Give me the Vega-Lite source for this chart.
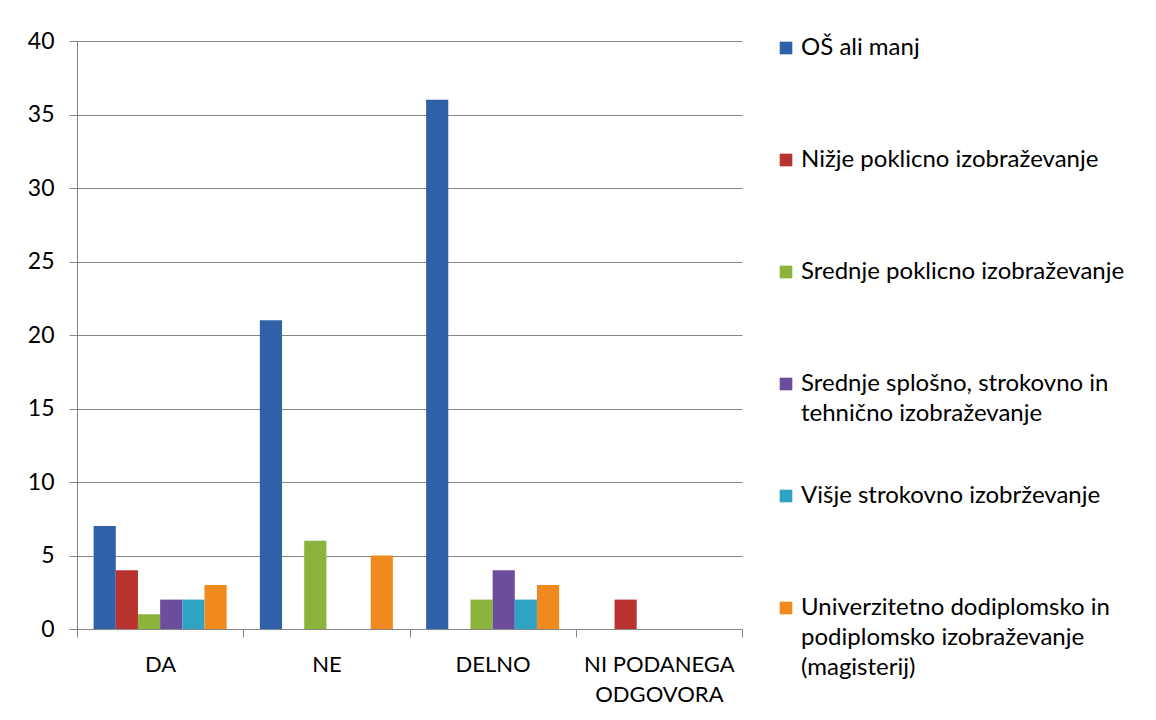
{
  "$schema": "https://vega.github.io/schema/vega-lite/v6.json",
  "autosize": "none",
  "width": 665,
  "height": 588,
  "padding": {"left": 77, "top": 41, "right": 414, "bottom": 91},
  "background": "white",
  "config": {
    "font": "Lato",
    "view": {"stroke": null},
    "style": {"guide-label": {"lineHeight": 30}}
  },
  "data": {
    "values": [
      {"odgovor": "DA", "izobrazba": "OŠ ali manj", "vrednost": 7},
      {"odgovor": "DA", "izobrazba": "Nižje poklicno izobraževanje", "vrednost": 4},
      {"odgovor": "DA", "izobrazba": "Srednje poklicno izobraževanje", "vrednost": 1},
      {"odgovor": "DA", "izobrazba": "Srednje splošno, strokovno in tehnično izobraževanje", "vrednost": 2},
      {"odgovor": "DA", "izobrazba": "Višje strokovno izobrževanje", "vrednost": 2},
      {"odgovor": "DA", "izobrazba": "Univerzitetno dodiplomsko in podiplomsko izobraževanje (magisterij)", "vrednost": 3},
      {"odgovor": "NE", "izobrazba": "OŠ ali manj", "vrednost": 21},
      {"odgovor": "NE", "izobrazba": "Nižje poklicno izobraževanje", "vrednost": 0},
      {"odgovor": "NE", "izobrazba": "Srednje poklicno izobraževanje", "vrednost": 6},
      {"odgovor": "NE", "izobrazba": "Srednje splošno, strokovno in tehnično izobraževanje", "vrednost": 0},
      {"odgovor": "NE", "izobrazba": "Višje strokovno izobrževanje", "vrednost": 0},
      {"odgovor": "NE", "izobrazba": "Univerzitetno dodiplomsko in podiplomsko izobraževanje (magisterij)", "vrednost": 5},
      {"odgovor": "DELNO", "izobrazba": "OŠ ali manj", "vrednost": 36},
      {"odgovor": "DELNO", "izobrazba": "Nižje poklicno izobraževanje", "vrednost": 0},
      {"odgovor": "DELNO", "izobrazba": "Srednje poklicno izobraževanje", "vrednost": 2},
      {"odgovor": "DELNO", "izobrazba": "Srednje splošno, strokovno in tehnično izobraževanje", "vrednost": 4},
      {"odgovor": "DELNO", "izobrazba": "Višje strokovno izobrževanje", "vrednost": 2},
      {"odgovor": "DELNO", "izobrazba": "Univerzitetno dodiplomsko in podiplomsko izobraževanje (magisterij)", "vrednost": 3},
      {"odgovor": "NI PODANEGA ODGOVORA", "izobrazba": "OŠ ali manj", "vrednost": 0},
      {"odgovor": "NI PODANEGA ODGOVORA", "izobrazba": "Nižje poklicno izobraževanje", "vrednost": 2},
      {"odgovor": "NI PODANEGA ODGOVORA", "izobrazba": "Srednje poklicno izobraževanje", "vrednost": 0},
      {"odgovor": "NI PODANEGA ODGOVORA", "izobrazba": "Srednje splošno, strokovno in tehnično izobraževanje", "vrednost": 0},
      {"odgovor": "NI PODANEGA ODGOVORA", "izobrazba": "Višje strokovno izobrževanje", "vrednost": 0},
      {"odgovor": "NI PODANEGA ODGOVORA", "izobrazba": "Univerzitetno dodiplomsko in podiplomsko izobraževanje (magisterij)", "vrednost": 0}
    ]
  },
  "mark": {"type": "bar"},
  "encoding": {
    "x": {
      "field": "odgovor",
      "type": "nominal",
      "sort": ["DA", "NE", "DELNO", "NI PODANEGA ODGOVORA"],
      "scale": {"paddingInner": 0, "paddingOuter": 0},
      "axis": {
        "title": null,
        "labelAngle": 0,
        "tickBand": "extent",
        "tickSize": 8,
        "tickColor": "#868686",
        "domainColor": "#868686",
        "labelFontSize": 22,
        "labelColor": "#000000",
        "labelPadding": 17,
        "labelBaseline": "top",
        "labelExpr": "datum.label == 'NI PODANEGA ODGOVORA' ? ['NI PODANEGA', 'ODGOVORA'] : datum.label"
      }
    },
    "xOffset": {
      "field": "izobrazba",
      "type": "nominal",
      "sort": null,
      "scale": {"paddingInner": 0, "paddingOuter": 0.75}
    },
    "y": {
      "field": "vrednost",
      "type": "quantitative",
      "scale": {"domain": [0, 40], "nice": false},
      "axis": {
        "title": null,
        "values": [0, 5, 10, 15, 20, 25, 30, 35, 40],
        "tickSize": 8,
        "tickColor": "#868686",
        "domainColor": "#868686",
        "gridColor": "#868686",
        "labelFontSize": 23,
        "labelColor": "#000000",
        "labelPadding": 15
      }
    },
    "color": {
      "field": "izobrazba",
      "type": "nominal",
      "sort": null,
      "scale": {
        "domain": [
          "OŠ ali manj",
          "Nižje poklicno izobraževanje",
          "Srednje poklicno izobraževanje",
          "Srednje splošno, strokovno in tehnično izobraževanje",
          "Višje strokovno izobrževanje",
          "Univerzitetno dodiplomsko in podiplomsko izobraževanje (magisterij)"
        ],
        "range": ["#2f61a8", "#b8332f", "#8cb43c", "#6c4d9c", "#2ea3c4", "#f08a1e"]
      },
      "legend": {
        "title": null,
        "orient": "none",
        "legendX": 697,
        "legendY": -5,
        "gridAlign": "all",
        "symbolType": "square",
        "symbolSize": 160,
        "symbolStrokeWidth": 0,
        "labelFontSize": 24,
        "labelColor": "#000000",
        "labelLimit": 500,
        "labelOffset": 3,
        "rowPadding": 28,
        "labelExpr": "datum.label == 'Srednje splošno, strokovno in tehnično izobraževanje' ? ['Srednje splošno, strokovno in', 'tehnično izobraževanje'] : datum.label == 'Univerzitetno dodiplomsko in podiplomsko izobraževanje (magisterij)' ? ['Univerzitetno dodiplomsko in', 'podiplomsko izobraževanje', '(magisterij)'] : datum.label"
      }
    }
  }
}
